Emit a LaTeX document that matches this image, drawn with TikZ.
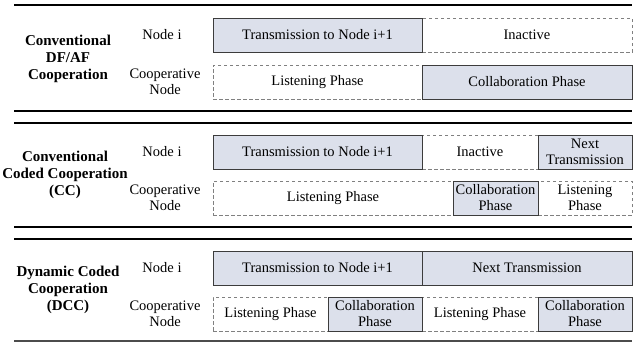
\documentclass[tikz,border=0pt]{standalone}
\usepackage{fontspec}
\setmainfont{Liberation Serif}
\definecolor{phasefill}{HTML}{DCE0EB}
\definecolor{edgedark}{HTML}{3C3C3C}
\definecolor{edgelight}{HTML}{808080}

\begin{document}
\begin{tikzpicture}[x=1pt,y=-1pt,
  boxtext/.style={font=\fontsize{14.5}{16}\selectfont, align=center, inner sep=0pt},
  phase/.style={boxtext, draw=edgedark, line width=0.9pt, fill=phasefill, minimum height=34pt},
  idle/.style={boxtext, draw=edgelight, line width=0.9pt, dash pattern=on 3.5pt off 2.5pt, fill=white, minimum height=34pt},
  rowlabel/.style={font=\fontsize{14.5}{16.5}\selectfont, align=center, inner sep=0pt},
  schemelabel/.style={font=\bfseries\fontsize{15}{17}\selectfont, align=center, inner sep=0pt},
  rule/.style={line width=1.8pt},
  endrule/.style={line width=1.2pt, draw=black!70},
]
\useasboundingbox (0,0) rectangle (639,343);

% horizontal rules separating the three schemes
\draw[rule] (14,5) -- (632,5);
\draw[rule] (14,111) -- (632,111);
\draw[rule] (14,123) -- (632,123);
\draw[rule] (14,227) -- (632,227);
\draw[rule] (14,239) -- (632,239);
\draw[endrule] (14,341) -- (632,341);

% ---------- Conventional DF/AF cooperation ----------
\node[schemelabel] (s1name) at (68,59) {Conventional\\DF/AF\\Cooperation};
\node[rowlabel] (s1node) at (162,35) {Node i};
\node[rowlabel] (s1coop) at (165,82) {Cooperative\\Node};
\node[idle, minimum width=210pt] (s1inact) at (527,35) {Inactive};
\node[idle, minimum width=209pt] (s1listen) at (317.5,82) {Listening Phase};
\node[phase, minimum width=209pt] (s1tx) at (317.5,35) {Transmission to Node i+1};
\node[phase, minimum width=210pt] (s1collab) at (527,82) {Collaboration Phase};

% ---------- Conventional coded cooperation ----------
\node[schemelabel] (s2name) at (65,175) {Conventional\\Coded Cooperation\\(CC)};
\node[rowlabel] (s2node) at (162,152) {Node i};
\node[rowlabel] (s2coop) at (165,198) {Cooperative\\Node};
\node[idle, minimum width=116pt] (s2inact) at (480,152) {Inactive};
\node[idle, minimum width=240pt] (s2listen) at (333,198) {Listening Phase};
\node[idle, minimum width=94pt] (s2listen2) at (585,198) {Listening\\Phase};
\node[phase, minimum width=209pt] (s2tx) at (317.5,152) {Transmission to Node i+1};
\node[phase, minimum width=94pt] (s2next) at (585,152) {Next\\Transmission};
\node[phase, minimum width=85pt] (s2collab) at (495.5,198) {Collaboration\\Phase};

% ---------- Dynamic coded cooperation ----------
\node[schemelabel] (s3name) at (68,290) {Dynamic Coded\\Cooperation\\(DCC)};
\node[rowlabel] (s3node) at (162,268) {Node i};
\node[rowlabel] (s3coop) at (165,314) {Cooperative\\Node};
\node[idle, minimum width=115pt] (s3listen) at (270.5,314) {Listening Phase};
\node[idle, minimum width=116pt] (s3listen2) at (480,314) {Listening Phase};
\node[phase, minimum width=209pt] (s3tx) at (317.5,268) {Transmission to Node i+1};
\node[phase, minimum width=210pt] (s3next) at (527,268) {Next Transmission};
\node[phase, minimum width=94pt] (s3collab) at (375,314) {Collaboration\\Phase};
\node[phase, minimum width=94pt] (s3collab2) at (585,314) {Collaboration\\Phase};
\end{tikzpicture}
\end{document}
